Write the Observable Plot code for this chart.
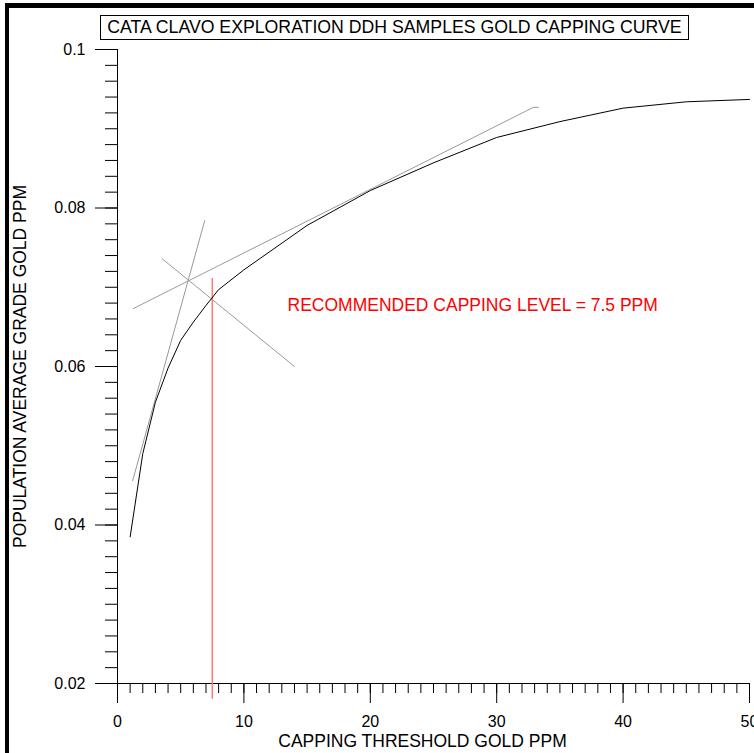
<!DOCTYPE html>
<html><head><meta charset="utf-8">
<script src="https://cdn.jsdelivr.net/npm/d3@7"></script>
<script src="https://cdn.jsdelivr.net/npm/@observablehq/plot@0.6"></script>
<style>
body{margin:0;background:#fff;}
#wrap{position:relative;width:754px;height:753px;overflow:hidden;font-family:"Liberation Sans",Arial,sans-serif;}
#frame{position:absolute;left:5px;top:3px;width:800px;height:800px;border-left:4px solid #000;border-top:5px solid #000;pointer-events:none;}
#title{position:absolute;left:100px;top:15px;width:587px;height:23px;border:1px solid #000;background:#fff;font-size:17.7px;line-height:23px;text-align:center;color:#000;white-space:nowrap;}
#wrap svg{position:absolute;left:0;top:0;}
</style></head><body>
<div id="wrap"><div id="frame"></div><div id="title">CATA CLAVO EXPLORATION DDH SAMPLES GOLD CAPPING CURVE</div></div>
<script>
// Capping curve data
const threshold = [1, 2, 3, 4, 5, 6, 7, 8, 10, 15, 20, 25, 30, 35, 40, 45, 50];
const avgGrade = [0.0385, 0.0490, 0.0555, 0.0598, 0.0633, 0.0656, 0.0677, 0.0697, 0.0722, 0.0778, 0.0822, 0.0857, 0.0889, 0.0909, 0.0926, 0.0934, 0.0937];

// Construction lines
const steepX = [1.2, 6.9];
const steepY = [0.0456, 0.0784];
const shallowX = [1.24, 32.9, 33.3];
const shallowY = [0.0673, 0.0927, 0.0927];
const crossX = [3.53, 14.0];
const crossY = [0.0736, 0.0600];

// Recommended capping level
const capLevel = 7.5;
const capTop = 0.0711;
const capBottom = 0.018;
const capLabel = "RECOMMENDED CAPPING LEVEL = 7.5 PPM";
const capLabelX = [13.45];
const capLabelY = [0.0677];

// Axes
const xMajor = [0, 10, 20, 30, 40, 50];
const xMinor = d3.range(0, 51);
const yMajor = [0.02, 0.04, 0.06, 0.08, 0.1];
const yMinor = d3.range(10, 51).map(d => d / 500);
const xLabel = "CAPPING THRESHOLD GOLD PPM";
const yLabel = "POPULATION AVERAGE GRADE GOLD PPM";

const pts = (xs, ys) => xs.map((x, i) => ({x, y: ys[i]}));
const font = "Liberation Sans, Arial, sans-serif";

const chart = Plot.plot({
  width: 754,
  height: 753,
  marginLeft: 117,
  marginRight: 5,
  marginTop: 49,
  marginBottom: 70,
  style: {fontFamily: font, background: "transparent", color: "#000"},
  x: {domain: [0, 50], nice: false},
  y: {domain: [0.02, 0.1], nice: false},
  marks: [
    Plot.axisX({ticks: xMinor, tickSize: 10, text: null, label: null, stroke: "#000"}),
    Plot.axisX({ticks: xMajor, tickSize: 20, tickPadding: 12, fontSize: 16, label: null, stroke: "#000", fill: "#000"}),
    Plot.axisY({ticks: yMinor, tickSize: 12, text: null, label: null, stroke: "#000"}),
    Plot.axisY({ticks: yMajor, tickSize: 22, tickPadding: 10, fontSize: 16, label: null, tickFormat: d => String(+d.toFixed(3)), stroke: "#000", fill: "#000"}),
    Plot.ruleY([0.02], {stroke: "#000"}),
    Plot.ruleX([0], {stroke: "#000"}),
    Plot.text([yLabel], {frameAnchor: "left", textAnchor: "middle", rotate: -90, dx: -97, fontSize: 17.5, fill: "#000", text: d => d}),
    Plot.text([xLabel], {frameAnchor: "bottom", textAnchor: "middle", dx: -11, dy: 63, fontSize: 17.5, fill: "#000", text: d => d}),
    Plot.line(pts(steepX, steepY), {x: "x", y: "y", stroke: "#999", strokeWidth: 1}),
    Plot.line(pts(shallowX, shallowY), {x: "x", y: "y", stroke: "#999", strokeWidth: 1}),
    Plot.line(pts(crossX, crossY), {x: "x", y: "y", stroke: "#999", strokeWidth: 1}),
    Plot.ruleX([capLevel], {y1: capBottom, y2: capTop, stroke: "#f77", strokeWidth: 1.5}),
    Plot.line(pts(threshold, avgGrade), {x: "x", y: "y", stroke: "#000", strokeWidth: 1}),
    Plot.text(pts(capLabelX, capLabelY), {x: "x", y: "y", text: () => capLabel, textAnchor: "start", fill: "#ff0000", fontSize: 17.5})
  ]
});
document.getElementById("wrap").prepend(chart);
</script>
</body></html>
